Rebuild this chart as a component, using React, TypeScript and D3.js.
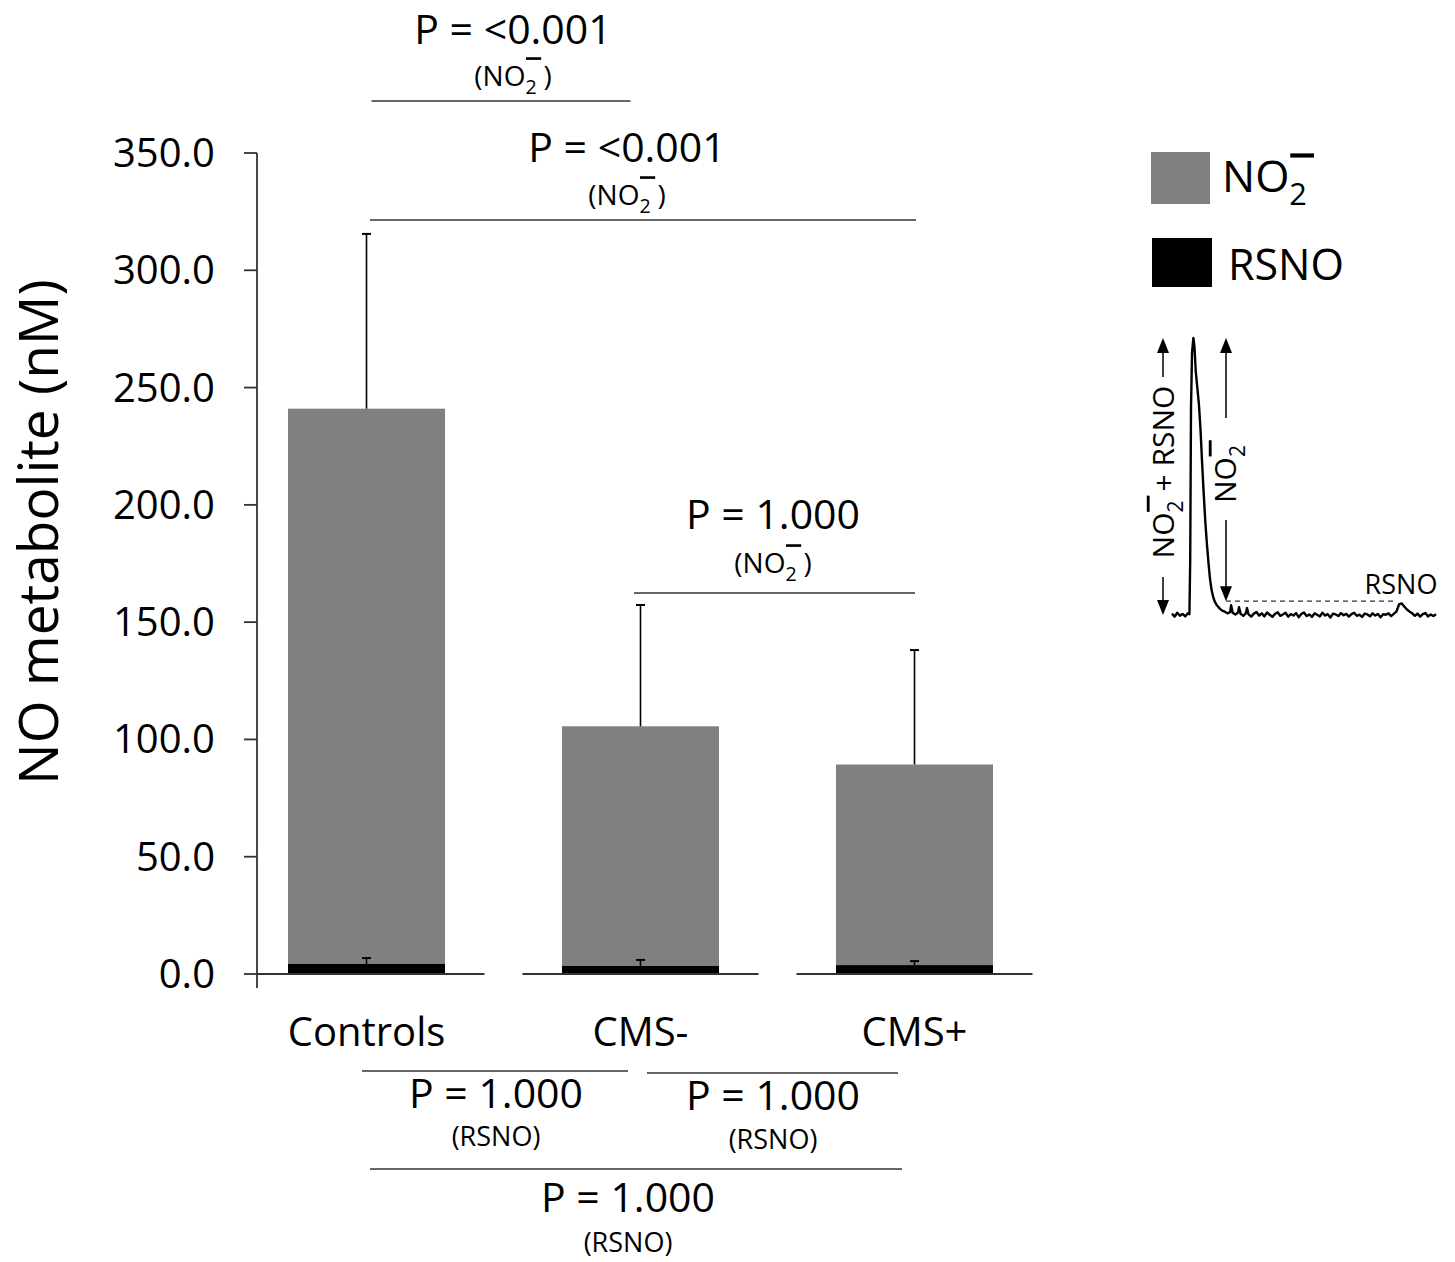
import React, { useLayoutEffect, useRef, useState } from "react";
import * as d3 from "d3";

// ---------- data ----------
const categories = ["Controls", "CMS-", "CMS+"];
const rsnoMean = [4.3, 3.4, 3.8];
const rsnoErr = [2.5, 2.6, 1.7];
const no2Mean = [236.7, 102.2, 85.5];
const no2Err = [74.5, 51.7, 48.8];
const yTicks = [0, 50, 100, 150, 200, 250, 300, 350];

const topComparisons = [
  { from: "Controls", to: "CMS-", p: "<0.001", species: "NO2" },
  { from: "Controls", to: "CMS+", p: "<0.001", species: "NO2" },
  { from: "CMS-", to: "CMS+", p: "1.000", species: "NO2" },
];
const bottomComparisons = [
  { from: "Controls", to: "CMS-", p: "1.000", species: "RSNO" },
  { from: "CMS-", to: "CMS+", p: "1.000", species: "RSNO" },
  { from: "Controls", to: "CMS+", p: "1.000", species: "RSNO" },
];

// inset chemiluminescence trace (relative time, relative signal)
const traceT = [
  0, 1, 2, 3, 4, 5, 6, 6.6, 6.9, 7.2, 7.6, 8.1, 8.5, 9.0, 9.6, 10.2, 10.8, 11.4, 12.0, 12.6, 13.2,
  13.8, 14.4, 15.0, 15.6, 16.2, 17, 18, 19, 20, 21, 22, 22.4, 23, 24, 25, 25.4, 26, 27, 28, 28.4, 29,
  30, 31, 32, 33, 34, 35, 36, 37, 38, 39, 40, 41, 42, 43, 44, 45, 46, 47, 48, 49, 50, 51, 52, 53,
  54, 55, 56, 57, 58, 59, 60, 61, 62, 63, 64, 65, 66, 67, 68, 69, 70, 71, 72, 73, 74, 75, 76, 77,
  78, 79, 80, 81, 82, 83, 84, 85, 86, 87, 88, 89, 90, 91, 92, 93, 94, 95, 96, 97, 98, 99, 100,
];
const traceS = [
  0.5, -0.6, 0.8, -0.3, 0.4, -0.5, 0.6, 0.3, 20, 75, 95, 100, 97, 88, 82, 76, 67, 55, 44, 34, 26,
  19, 13, 9, 6.5, 4.8, 3.5, 2.4, 1.6, 1.2, 0.6, 1.0, 3.5, 0.8, 0.2, 0.9, 2.8, 0.4, -0.3, 0.7, 2.5, 0.2,
  -0.6, 0.5, 1.1, -0.2, 0.6, -0.5, 0.9, 0.1, -0.7, 0.4, 1.0, -0.3, 0.2, 0.8, -0.6, 0.3, -0.2, 0.7,
  -0.8, 0.4, 0.9, -0.4, 0.2, -0.7, 0.6, 0.1, -0.5, 0.8, -0.2, 0.3, -0.9, 0.5, 0.2, -0.4, 0.7, -0.1,
  0.4, -0.6, 0.3, 0.8, -0.3, 0.1, -0.7, 0.5, 0.2, -0.5, 0.6, -0.2, 0.4, -0.8, 0.3, 0.1, 0.6, -0.4,
  0.4, 1.2, 3.8, 4.2, 3.0, 2.0, 1.2, 0.6, -0.3, 0.5, -0.6, 0.3, 0.7, -0.5, 0.2, -0.4, 0.3,
];
const insetPeakLevel = 100;
const insetDashLevel = 5;

const FONT = "'Open Sans', 'DejaVu Sans', sans-serif";
const GRAY = "#808080";
const LINE = "#333333";

// NO2- : "NO" + subscript 2 with an overbar (minus charge) drawn over it
function NO2Text({
  x,
  y,
  size,
  anchor = "middle",
  prefix = "",
  suffix = "",
  suffixGap = 0.24,
  barRise = 0.88,
  transform,
}: any) {
  const ref = useRef<SVGTextElement>(null);
  const [bar, setBar] = useState<{ x0: number; x1: number } | null>(null);
  const sub = size * 0.7;
  useLayoutEffect(() => {
    const measure = () => {
      const el = ref.current;
      if (!el) return;
      try {
        const e = el.getExtentOfChar(prefix.length + 2);
        setBar({ x0: e.x + e.width * 0.05, x1: e.x + e.width * 1.4 });
      } catch (err) {
        /* ignore */
      }
    };
    measure();
    if ((document as any).fonts && (document as any).fonts.ready) {
      (document as any).fonts.ready.then(measure);
    }
  }, [x, y, size, prefix, suffix]);
  return (
    <g transform={transform}>
      <text ref={ref} x={x} y={y} fontSize={size} fontFamily={FONT} textAnchor={anchor} fill="#000">
        {prefix + "NO"}
        <tspan fontSize={sub} dy={size * 0.3}>
          2
        </tspan>
        {suffix ? (
          <tspan fontSize={size} dx={size * suffixGap} dy={-size * 0.3}>
            {suffix}
          </tspan>
        ) : null}
      </text>
      {bar && (
        <line
          x1={bar.x0}
          x2={bar.x1}
          y1={y - size * barRise}
          y2={y - size * barRise}
          stroke="#000"
          strokeWidth={Math.max(1.5, size * 0.095)}
        />
      )}
    </g>
  );
}

export default function App() {
  const W = 1455;
  const H = 1262;

  const y = d3.scaleLinear().domain([0, 350]).range([974, 153]);
  const x = d3
    .scaleBand<string>()
    .domain(categories)
    .range([288, 993])
    .paddingInner(0.427)
    .paddingOuter(0);
  const bw = x.bandwidth();
  const step = x.step();
  const cx = (c: string) => (x(c) as number) + bw / 2;
  const axisX = 257;

  // inset scales
  const xi = d3.scaleLinear().domain([0, 100]).range([1172, 1436]);
  const yi = d3.scaleLinear().domain([0, 100]).range([615, 338]);
  const traceLine = d3
    .line<number>()
    .x((_, i) => xi(traceT[i]))
    .y((d) => yi(d))
    .curve(d3.curveLinear);

  const topLayout = [
    { lineY: 101, x0: 5, x1: -10, tx: 513, pY: 44, sY: 86 },
    { lineY: 220, x0: 3.5, x1: 1.5, tx: 627, pY: 162, sY: 205 },
    { lineY: 593, x0: -6.5, x1: 0.5, tx: 773, pY: 529, sY: 573 },
  ];
  const bottomLayout = [
    { lineY: 1071, x0: -4.5, x1: -12.5, tx: 496, pY: 1108, sY: 1146 },
    { lineY: 1073, x0: 6.5, x1: -16.5, tx: 773, pY: 1110, sY: 1149 },
    { lineY: 1169, x0: 3.5, x1: -12.5, tx: 628, pY: 1212, sY: 1252 },
  ];

  const arrowHead = (px: number, py: number, dir: number) => {
    const w = 6;
    const h = 15;
    return `M${px},${py} L${px - w},${py - dir * h} L${px + w},${py - dir * h} Z`;
  };

  const leftArrowX = 1163;
  const rightArrowX = 1226;

  return (
    <svg
      width={W}
      height={H}
      viewBox={`0 0 ${W} ${H}`}
      style={{ position: "absolute", left: 0, top: 0, display: "block", background: "#fff" }}
      fontFamily={FONT}
    >
      <rect x={0} y={0} width={W} height={H} fill="#fff" />

      {/* y axis */}
      <line x1={axisX} x2={axisX} y1={y(350)} y2={y(0) + 14} stroke={LINE} strokeWidth={1.8} />
      {yTicks.map((t) => (
        <g key={t}>
          <line x1={axisX - 13} x2={axisX} y1={y(t)} y2={y(t)} stroke={LINE} strokeWidth={1.8} />
          <text x={215} y={y(t) + 14} fontSize={40} textAnchor="end" fill="#000">
            {t.toFixed(1)}
          </text>
        </g>
      ))}
      <text transform={`translate(58, 532) rotate(-90)`} fontSize={55} textAnchor="middle" fill="#000">
        NO metabolite (nM)
      </text>

      {/* bars */}
      {categories.map((c, i) => {
        const bx = x(c) as number;
        const rTop = y(rsnoMean[i]);
        const nTop = y(rsnoMean[i] + no2Mean[i]);
        const eTop = y(rsnoMean[i] + no2Mean[i] + no2Err[i]);
        const rErrTop = y(rsnoMean[i] + rsnoErr[i]);
        const mid = cx(c);
        return (
          <g key={c}>
            <rect x={bx} y={nTop} width={bw} height={rTop - nTop} fill={GRAY} />
            <rect x={bx} y={rTop} width={bw} height={y(0) - rTop} fill="#000" />
            <line x1={mid} x2={mid} y1={nTop} y2={eTop} stroke="#000" strokeWidth={1.6} />
            <line x1={mid - 4.5} x2={mid + 4.5} y1={eTop} y2={eTop} stroke="#000" strokeWidth={2} />
            <line x1={mid} x2={mid} y1={rTop} y2={rErrTop} stroke="#000" strokeWidth={1.6} />
            <line x1={mid - 4.5} x2={mid + 4.5} y1={rErrTop} y2={rErrTop} stroke="#000" strokeWidth={2} />
            <line
              x1={Math.max(axisX, mid - step / 2 + 19)}
              x2={mid + step / 2 - 19}
              y1={y(0)}
              y2={y(0)}
              stroke={LINE}
              strokeWidth={2}
            />
            <text x={mid} y={1046} fontSize={40} textAnchor="middle" fill="#000">
              {c}
            </text>
          </g>
        );
      })}

      {/* top comparisons (NO2-) */}
      {topComparisons.map((cmp, i) => {
        const L = topLayout[i];
        return (
          <g key={"t" + i}>
            <line
              x1={cx(cmp.from) + L.x0}
              x2={cx(cmp.to) + L.x1}
              y1={L.lineY}
              y2={L.lineY}
              stroke={LINE}
              strokeWidth={1.5}
            />
            <text x={L.tx} y={L.pY} fontSize={41} textAnchor="middle" fill="#000">
              {`P = ${cmp.p}`}
            </text>
            <NO2Text x={L.tx} y={L.sY} size={28} prefix="(" suffix=")" barRise={0.98} />
          </g>
        );
      })}

      {/* bottom comparisons (RSNO) */}
      {bottomComparisons.map((cmp, i) => {
        const L = bottomLayout[i];
        return (
          <g key={"b" + i}>
            <line
              x1={cx(cmp.from) + L.x0}
              x2={cx(cmp.to) + L.x1}
              y1={L.lineY}
              y2={L.lineY}
              stroke={LINE}
              strokeWidth={1.5}
            />
            <text x={L.tx} y={L.pY} fontSize={41} textAnchor="middle" fill="#000">
              {`P = ${cmp.p}`}
            </text>
            <text x={L.tx} y={L.sY} fontSize={27} textAnchor="middle" fill="#000">
              {`(${cmp.species})`}
            </text>
          </g>
        );
      })}

      {/* legend */}
      <rect x={1151} y={152} width={59} height={52} fill={GRAY} />
      <NO2Text x={1222} y={192} size={44} anchor="start" barRise={0.83} />
      <rect x={1152} y={238} width={60} height={49} fill="#000" />
      <text x={1228} y={280} fontSize={43} fill="#000">
        RSNO
      </text>

      {/* inset trace */}
      <line
        x1={rightArrowX}
        x2={xi(85)}
        y1={yi(insetDashLevel)}
        y2={yi(insetDashLevel)}
        stroke="#333"
        strokeWidth={1.2}
        strokeDasharray="5,4"
      />
      <path d={traceLine(traceS) || ""} fill="none" stroke="#000" strokeWidth={2.4} strokeLinejoin="round" />
      <text x={1401} y={594} fontSize={27} textAnchor="middle" fill="#000">
        RSNO
      </text>

      {/* left arrow: NO2- + RSNO */}
      <line x1={leftArrowX} x2={leftArrowX} y1={yi(insetPeakLevel) + 10} y2={377} stroke="#000" strokeWidth={1.5} />
      <line x1={leftArrowX} x2={leftArrowX} y1={577} y2={yi(0) - 10} stroke="#000" strokeWidth={1.5} />
      <path d={arrowHead(leftArrowX, yi(insetPeakLevel), -1)} fill="#000" />
      <path d={arrowHead(leftArrowX, yi(0), 1)} fill="#000" />
      <NO2Text
        x={0}
        y={0}
        size={30}
        suffix="+ RSNO"
        suffixGap={0.3}
        barRise={0.86}
        transform={`translate(1174, 472) rotate(-90)`}
      />

      {/* right arrow: NO2- */}
      <line x1={rightArrowX} x2={rightArrowX} y1={yi(insetPeakLevel) + 10} y2={418} stroke="#000" strokeWidth={1.5} />
      <line x1={rightArrowX} x2={rightArrowX} y1={520} y2={yi(insetDashLevel) - 10} stroke="#000" strokeWidth={1.5} />
      <path d={arrowHead(rightArrowX, yi(insetPeakLevel), -1)} fill="#000" />
      <path d={arrowHead(rightArrowX, yi(insetDashLevel), 1)} fill="#000" />
      <NO2Text x={0} y={0} size={30} barRise={0.86} transform={`translate(1236, 474) rotate(-90)`} />
    </svg>
  );
}
